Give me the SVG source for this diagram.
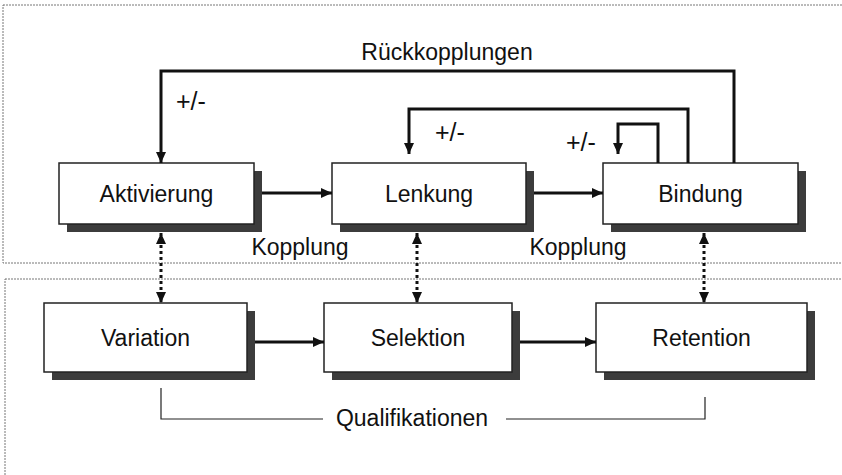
<svg xmlns="http://www.w3.org/2000/svg" width="842" height="475" viewBox="0 0 842 475">
<style>
.panel{fill:none;stroke:#777;stroke-width:1;stroke-dasharray:2,1}
.box{fill:#fff;stroke:#222;stroke-width:1.5}
.shadow{fill:#3c3c3c}
.lbl{font-family:"Liberation Sans",Arial,sans-serif;font-size:23px;fill:#111;text-anchor:middle}
.pm{font-family:"Liberation Sans",Arial,sans-serif;font-size:25px;fill:#111}
.arr{fill:none;stroke:#111;stroke-width:3;marker-end:url(#ah)}
.dot{fill:none;stroke:#111;stroke-width:3;stroke-dasharray:3,3;marker-start:url(#ahs);marker-end:url(#ah)}
.thin{fill:none;stroke:#222;stroke-width:1.2}
</style>
<defs>
<marker id="ah" markerUnits="userSpaceOnUse" markerWidth="12" markerHeight="10" refX="11" refY="5" orient="auto"><path d="M0,0 L11,5 L0,10 Z" fill="#111"/></marker>
<marker id="ahs" markerUnits="userSpaceOnUse" markerWidth="12" markerHeight="10" refX="1" refY="5" orient="auto"><path d="M12,0 L1,5 L12,10 Z" fill="#111"/></marker>
</defs>
<rect width="842" height="475" fill="#fff"/>
<rect class="panel" x="3" y="5" width="845" height="258"/>
<rect class="panel" x="5" y="279" width="845" height="210"/>

<g id="aktivierung"><rect class="shadow" x="67" y="171" width="195" height="61"/><rect class="box" x="59" y="163" width="195" height="61"/><text class="lbl" x="156.5" y="202">Aktivierung</text></g>
<g id="lenkung"><rect class="shadow" x="340" y="171" width="194" height="61"/><rect class="box" x="332" y="163" width="194" height="61"/><text class="lbl" x="429" y="202">Lenkung</text></g>
<g id="bindung"><rect class="shadow" x="611" y="171" width="195" height="61"/><rect class="box" x="603" y="163" width="195" height="61"/><text class="lbl" x="700.5" y="202">Bindung</text></g>
<g id="variation"><rect class="shadow" x="52" y="311" width="203" height="69"/><rect class="box" x="44" y="303" width="203" height="69"/><text class="lbl" x="145.5" y="346">Variation</text></g>
<g id="selektion"><rect class="shadow" x="332" y="311" width="188" height="69"/><rect class="box" x="324" y="303" width="188" height="69"/><text class="lbl" x="418" y="346">Selektion</text></g>
<g id="retention"><rect class="shadow" x="604" y="311" width="211" height="69"/><rect class="box" x="596" y="303" width="211" height="69"/><text class="lbl" x="701.5" y="346">Retention</text></g>

<g id="connectors">
<path class="arr" d="M262,193 H332"/>
<path class="arr" d="M534,193 H603"/>
<path class="arr" d="M255,342 H324"/>
<path class="arr" d="M520,342 H596"/>
<path class="arr" d="M734,163 V71 H161 V163"/>
<path class="arr" d="M688,163 V109 H409 V154"/>
<path class="arr" d="M658,163 V124 H618 V154"/>
<path class="dot" d="M161,233 V303"/>
<path class="dot" d="M417,233 V303"/>
<path class="dot" d="M704,233 V303"/>
<path class="thin" d="M161,388 V419 H323"/>
<path class="thin" d="M506,419 H705 V397"/>
</g>

<g id="labels">
<text class="lbl" x="447" y="60">Rückkopplungen</text>
<text class="pm" x="176" y="110">+/-</text>
<text class="pm" x="435" y="141">+/-</text>
<text class="pm" x="566" y="151">+/-</text>
<text class="lbl" x="300" y="255">Kopplung</text>
<text class="lbl" x="578" y="255">Kopplung</text>
<text class="lbl" x="412" y="426">Qualifikationen</text>
</g>
</svg>
